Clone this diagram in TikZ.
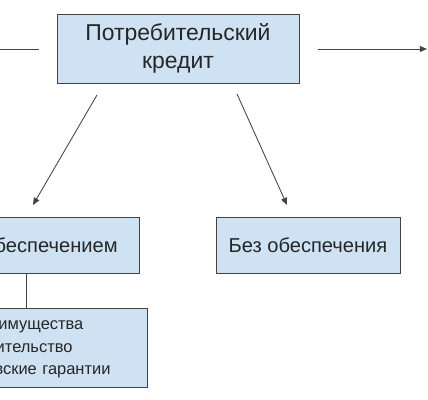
\documentclass[tikz,border=0pt]{standalone}
\usepackage{fontspec}
\setmainfont{Liberation Sans}
\usetikzlibrary{arrows.meta,positioning,calc}
\definecolor{boxblue}{HTML}{CFE2F3}
\definecolor{edge}{HTML}{434343}

\begin{document}
\begin{tikzpicture}[x=0.025cm, y=-0.025cm,
  box/.style={rectangle, draw=edge, semithick, fill=boxblue, align=center, inner sep=0pt,
    font=\fontsize{14.3}{17.5}\selectfont, text=black!85},
  arr/.style={-{Triangle[length=1.8mm, width=1.5mm]}, semithick, edge},
  lnk/.style={semithick, edge}
]
  \useasboundingbox (0,0) rectangle (428,400);
  \clip (0,0) rectangle (428,400);
  \fill[white] (0,0) rectangle (428,400);

  \node[box, minimum width=6.05cm, minimum height=1.725cm, font=\fontsize{16.3}{19.8}\selectfont] (credit) at (178,48.5) {Потребительский\\кредит};
  \node[box, minimum width=4.925cm, minimum height=1.4cm] (secured) at (40.5,245) {С обеспечением};
  \node[box, minimum width=4.6cm, minimum height=1.4cm] (unsecured) at (308,245) {Без обеспечения};
  \node[box, minimum width=5.175cm, minimum height=1.975cm, inner xsep=0.225cm, text width=4.725cm,
    align=left, font=\fontsize{11.7}{15.9}\selectfont] (pledge) at (43.5,348)
    {Залог имущества\\Поручительство\\Банковские гарантии};

  % free ends of the connectors
  \coordinate (inL) at (0,49);
  \coordinate (inR) at (39,49);
  \coordinate (outL) at (318,49);
  \coordinate (outR) at (427,49);
  \coordinate (dl1) at (97,95);
  \coordinate (dl2) at (33,205);
  \coordinate (dr1) at (237,94);
  \coordinate (dr2) at (287,205);
  \coordinate (link) at (26,273);

  \draw[lnk] (inL) -- (inR);
  \draw[arr] (outL) -- (outR);
  \draw[arr] (dl1) -- (dl2);
  \draw[arr] (dr1) -- (dr2);
  \draw[lnk] (link) -- (link |- pledge.north);
\end{tikzpicture}
\end{document}
